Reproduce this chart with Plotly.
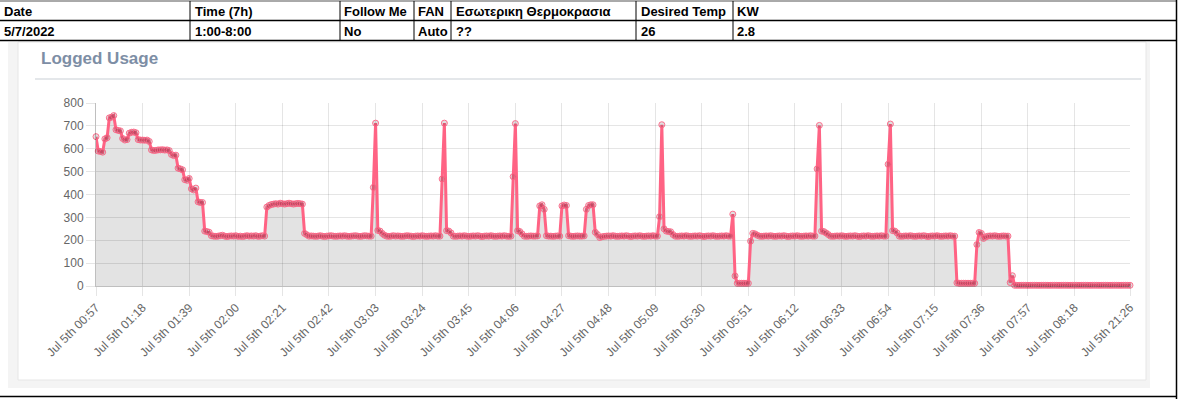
import plotly.graph_objects as go

# ---------------- data ----------------
usage = [
    653, 590, 588, 585, 643, 648, 735, 738, 745, 683, 680, 678, 645, 638, 640,
    668, 672, 673, 670, 640, 638, 638, 637, 638, 632,
    595, 592, 593, 595, 595, 596, 594, 595, 592,
    575, 570, 572, 515, 512, 508, 465, 462, 470, 425, 420, 428, 368, 365, 365,
    240, 238, 235,
    220, 218, 217, 218, 220, 222, 218, 216, 218, 219, 218, 220, 217, 218, 216,
    218, 220, 218, 219, 218, 220, 217, 218, 220, 218,
    345, 352, 356, 358, 360, 358, 362, 360, 358, 360, 362, 360, 358, 360, 361, 360, 358,
    230, 224,
    218, 219, 218, 217, 218, 220, 218, 216, 218, 219, 220, 218, 217, 218, 219,
    218, 220, 218, 217, 218, 219, 220, 218, 217, 218, 220, 219, 218, 218,
    431, 712, 243, 240, 230,
    222, 218, 217, 218, 220, 218, 219, 218, 217, 218, 220, 219, 218, 216, 218,
    219, 218, 220, 218, 217, 218, 219, 218, 220, 218, 218,
    468, 712, 242, 240, 232,
    218, 217, 218, 219, 218, 220, 218, 217, 218, 219, 218, 220, 218, 216, 218,
    219, 218, 220, 218, 217, 218, 219, 218, 220, 218, 217, 218,
    478, 710, 242, 238, 228,
    218, 217, 218, 219, 218, 218, 219,
    350, 355, 335,
    220, 218, 218, 217, 218, 219, 218,
    350, 354, 352,
    220, 218, 217, 218, 219, 218, 218, 219,
    335, 352, 355, 355, 235, 225, 212,
    215, 217, 218, 219, 218, 220, 218, 217, 218, 219, 218, 220, 218, 216, 218,
    219, 218, 220, 218, 217, 218, 219, 218, 220, 218, 218,
    303, 705, 250, 240, 238, 237, 225,
    218, 217, 218, 219, 218, 220, 218, 217, 218, 219, 218, 220, 218, 216, 218,
    219, 218, 220, 218, 217, 218, 219, 218, 220, 218, 218,
    314, 44, 12, 12, 12, 12, 12, 12, 196, 230, 228, 222,
    218, 217, 218, 219, 218, 220, 218, 217, 218, 219, 218, 220, 218, 216, 218,
    219, 218, 220, 218, 217, 218, 219, 218, 220, 218, 218,
    512, 702, 240, 238, 232, 225,
    218, 217, 218, 219, 218, 220, 218, 217, 218, 219, 218, 220, 218, 216, 218,
    219, 218, 220, 218, 217, 218, 219, 218, 220, 218, 218,
    532, 708, 242, 240, 232,
    218, 217, 218, 219, 218, 220, 218, 217, 218, 219, 218, 220, 218, 216, 218,
    219, 218, 220, 218, 217, 218, 219, 218, 220, 218, 218,
    14, 12, 12, 12, 12, 12, 12, 12, 12,
    181, 234, 230, 208,
    215, 218, 219, 218, 220, 218, 217, 218, 219, 218, 218,
    15, 45,
    3, 3, 3, 3, 3, 3, 3, 3, 3, 3, 3, 3, 3, 3, 3, 3, 3, 3, 3, 3,
    3, 3, 3, 3, 3, 3, 3, 3, 3, 3, 3, 3, 3, 3, 3, 3, 3, 3, 3, 3,
    3, 3, 3, 3, 3, 3, 3, 3, 3, 3, 3, 3, 3,
]

tick_labels = [
    "Jul 5th 00:57", "Jul 5th 01:18", "Jul 5th 01:39", "Jul 5th 02:00",
    "Jul 5th 02:21", "Jul 5th 02:42", "Jul 5th 03:03", "Jul 5th 03:24",
    "Jul 5th 03:45", "Jul 5th 04:06", "Jul 5th 04:27", "Jul 5th 04:48",
    "Jul 5th 05:09", "Jul 5th 05:30", "Jul 5th 05:51", "Jul 5th 06:12",
    "Jul 5th 06:33", "Jul 5th 06:54", "Jul 5th 07:15", "Jul 5th 07:36",
    "Jul 5th 07:57", "Jul 5th 08:18", "Jul 5th 21:26",
]
y_ticks = [0, 100, 200, 300, 400, 500, 600, 700, 800]

table_header = ["Date", "Time (7h)", "Follow Me", "FAN", "Εσωτερικη Θερμοκρασια", "Desired Temp", "KW"]
table_row = ["5/7/2022", "1:00-8:00", "No", "Auto", "??", "26", "2.8"]

# point categories: one reading per minute from 00:57, last reading 21:26
times = []
for i in range(len(usage) - 1):
    m = 57 + i
    times.append("Jul 5th %02d:%02d" % (m // 60, m % 60))
times.append("Jul 5th 21:26")

# ---------------- geometry helpers ----------------
W, H = 1178, 399
ML, MR, MT, MB = 96, 48, 103, 113
PW, PH = W - ML - MR, H - MT - MB

def xp(px):
    return (px - ML) / PW

def yp(py):
    return (H - MB - py) / PH

fig = go.Figure()
fig.add_trace(go.Scatter(
    x=times, y=usage, mode="lines+markers",
    line=dict(color="rgb(255,99,132)", width=3),
    marker=dict(size=6, color="rgba(0,0,0,0.12)",
                line=dict(color="rgba(255,99,132,0.9)", width=1)),
    fill="tozeroy", fillcolor="rgba(0,0,0,0.11)",
    cliponaxis=False, hoverinfo="x+y", showlegend=False,
))

shapes = []
# outer panel (light grey) and inner white card
shapes.append(dict(type="rect", xref="paper", yref="paper", layer="below",
                   x0=xp(8), x1=xp(1150), y0=yp(388), y1=yp(42),
                   fillcolor="#f4f4f4", line=dict(width=0)))
shapes.append(dict(type="rect", xref="paper", yref="paper", layer="below",
                   x0=xp(18), x1=xp(1146), y0=yp(380), y1=yp(42),
                   fillcolor="#ffffff", line=dict(color="#e6e6e6", width=1)))
# divider under title
shapes.append(dict(type="line", xref="paper", yref="paper", layer="below",
                   x0=xp(35), x1=xp(1141), y0=yp(79), y1=yp(79),
                   line=dict(color="#e4e7ea", width=2)))

# spreadsheet table lines
shapes.append(dict(type="line", xref="paper", yref="paper", x0=xp(0), x1=xp(1177),
                   y0=yp(1), y1=yp(1), line=dict(color="#555555", width=1)))
shapes.append(dict(type="line", xref="paper", yref="paper", x0=xp(0), x1=xp(1177),
                   y0=yp(20.5), y1=yp(20.5), line=dict(color="#000000", width=1.5)))
shapes.append(dict(type="line", xref="paper", yref="paper", x0=xp(0), x1=xp(1177),
                   y0=yp(40.5), y1=yp(40.5), line=dict(color="#000000", width=1.5)))
col_x = [2, 193, 342, 416, 454, 639, 735]
col_lines = [190, 340, 414, 451, 636, 733]
for cx in col_lines:
    shapes.append(dict(type="line", xref="paper", yref="paper", x0=xp(cx), x1=xp(cx),
                       y0=yp(1), y1=yp(40.5), line=dict(color="#000000", width=1)))
# right border and bottom border of the sheet
shapes.append(dict(type="line", xref="paper", yref="paper", x0=xp(1176.5), x1=xp(1176.5),
                   y0=yp(0), y1=yp(399), line=dict(color="#000000", width=1.5)))
shapes.append(dict(type="line", xref="paper", yref="paper", x0=xp(0), x1=xp(1177),
                   y0=yp(396.5), y1=yp(396.5), line=dict(color="#000000", width=1.5)))

annotations = []
for cx, htxt, rtxt in zip(col_x, table_header, table_row):
    for ty, txt in ((11, htxt), (31, rtxt)):
        annotations.append(dict(
            xref="paper", yref="paper", x=xp(cx), y=yp(ty), text="<b>%s</b>" % txt,
            showarrow=False, xanchor="left", yanchor="middle",
            font=dict(family="Liberation Sans", size=13, color="#000000")))
annotations.append(dict(
    xref="paper", yref="paper", x=xp(39), y=yp(59), text="<b>Logged Usage</b>",
    showarrow=False, xanchor="left", yanchor="middle",
    font=dict(family="Liberation Sans", size=17, color="#7d8ea5")))

fig.update_layout(
    width=W, height=H, autosize=False,
    margin=dict(l=ML, r=MR, t=MT, b=MB, pad=0),
    paper_bgcolor="#ffffff", plot_bgcolor="rgba(0,0,0,0)",
    shapes=shapes, annotations=annotations,
    font=dict(family="Liberation Sans", size=12, color="#666666"),
)
fig.update_xaxes(
    type="category", range=[0, len(usage) - 1],
    tickmode="array", tickvals=tick_labels, ticktext=tick_labels,
    tickangle=-45, showgrid=True, gridcolor="rgba(0,0,0,0.1)", gridwidth=1,
    ticks="outside", ticklen=9, tickcolor="rgba(0,0,0,0.1)",
    showline=True, linecolor="rgba(0,0,0,0.25)", linewidth=1,
    tickfont=dict(size=12, color="#666666"), fixedrange=True,
)
fig.update_yaxes(
    range=[0, 800], tickmode="array", tickvals=y_ticks,
    showgrid=True, gridcolor="rgba(0,0,0,0.1)", gridwidth=1,
    ticks="outside", ticklen=9, tickcolor="rgba(0,0,0,0.1)",
    showline=True, linecolor="rgba(0,0,0,0.25)", linewidth=1,
    zeroline=False, tickfont=dict(size=12, color="#666666"), fixedrange=True,
)

fig.write_html(
    "out.html",
    config={"displayModeBar": False},
    post_script="document.body.style.margin='0px';document.body.style.overflow='hidden';",
)
